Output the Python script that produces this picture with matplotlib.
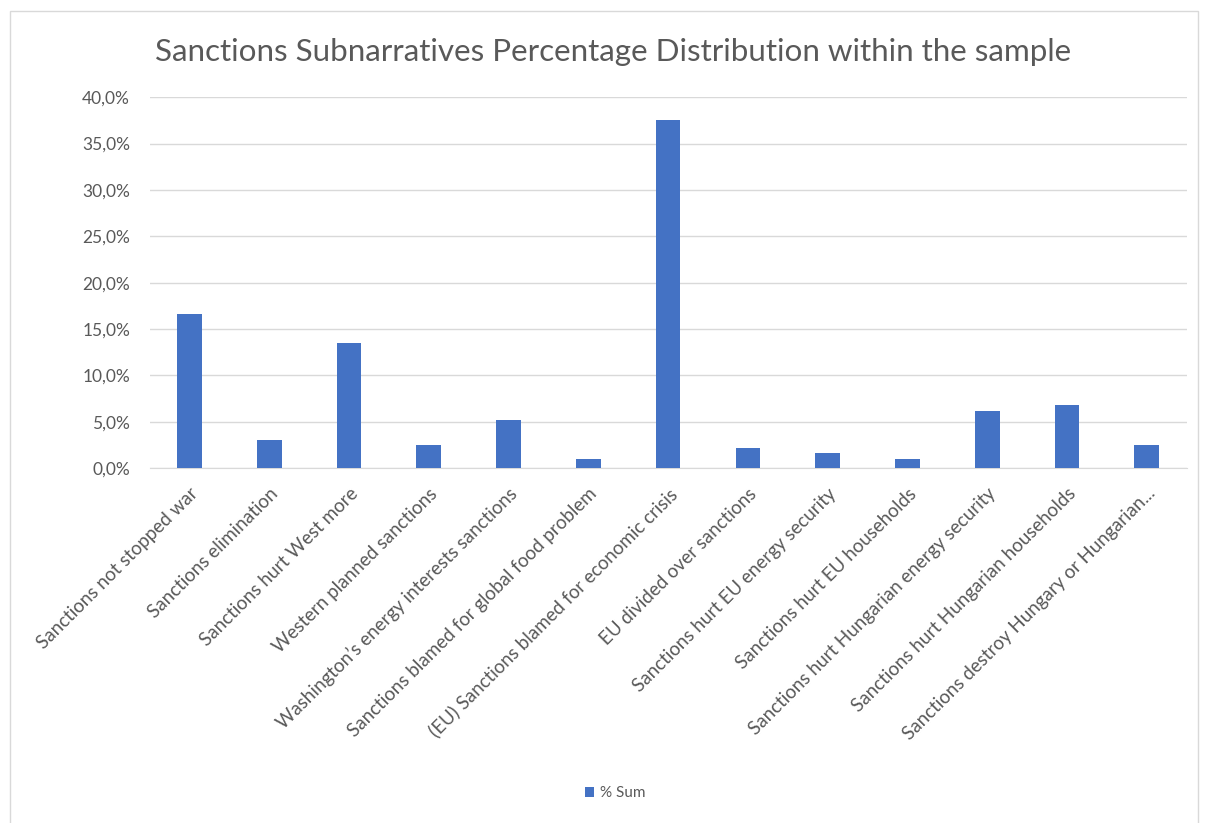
import matplotlib
matplotlib.use("Agg")
import matplotlib.pyplot as plt
from matplotlib.patches import Rectangle
from matplotlib.ticker import FuncFormatter, MultipleLocator

plt.rcParams["font.family"] = ["Lato", "DejaVu Sans"]

categories = [
    "Sanctions not stopped war",
    "Sanctions elimination",
    "Sanctions hurt West more",
    "Western planned sanctions",
    "Washington\u2019s energy interests sanctions",
    "Sanctions blamed for global food problem",
    "(EU) Sanctions blamed for economic crisis",
    "EU divided over sanctions",
    "Sanctions hurt EU energy security",
    "Sanctions hurt EU households",
    "Sanctions hurt Hungarian energy security",
    "Sanctions hurt Hungarian households",
    "Sanctions destroy Hungary or Hungarian...",
]
pct_sum = [16.6, 3.1, 13.5, 2.5, 5.2, 1.0, 37.5, 2.2, 1.6, 1.0, 6.2, 6.8, 2.5]
series_name = "% Sum"

BLUE = "#4472C4"
GREY_TXT = "#595959"
GRID = "#D9D9D9"

fig = plt.figure(figsize=(12.06, 8.23), dpi=100)
# chart frame
fig.patches.append(Rectangle((0.008, -0.02), 0.985, 1.007, transform=fig.transFigure,
                             fill=False, edgecolor=GRID, lw=1.0))

ax = fig.add_axes([0.124, 0.431, 0.86, 0.451])
x = range(len(categories))
ax.bar(x, pct_sum, width=0.31, color=BLUE, label=series_name, zorder=3)

ax.set_xlim(-0.5, len(categories) - 0.5)
ax.set_ylim(0, 40)
ax.yaxis.set_major_locator(MultipleLocator(5))
ax.yaxis.set_major_formatter(FuncFormatter(lambda v, p: f"{v:.1f}%".replace(".", ",")))
ax.grid(axis="y", color=GRID, lw=1.0, zorder=0)
for s in ["top", "right", "left"]:
    ax.spines[s].set_visible(False)
ax.spines["bottom"].set_color(GRID)
ax.tick_params(axis="both", length=0, colors=GREY_TXT)
ax.tick_params(axis="y", labelsize=12.5, pad=14)
ax.set_xticks(list(x))
ax.set_xticklabels(categories, rotation=45, ha="right", rotation_mode="anchor",
                   fontsize=13.5, color=GREY_TXT)
ax.tick_params(axis="x", pad=12)

fig.text(0.508, 0.937, "Sanctions Subnarratives Percentage Distribution within the sample",
         ha="center", va="center", fontsize=22.6, color=GREY_TXT)

fig.legend(loc="center", bbox_to_anchor=(0.51, 0.036), frameon=False, fontsize=11,
           handlelength=0.6, handleheight=0.6, handletextpad=0.4, labelcolor=GREY_TXT)

fig.savefig("out.png", dpi=100, facecolor="white")
